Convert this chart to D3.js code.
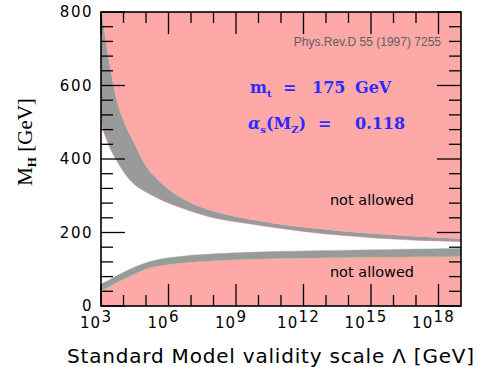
<!DOCTYPE html>
<html>
<head>
<meta charset="utf-8">
<script src="https://d3js.org/d3.v7.min.js"></script>
<style>
  body { margin: 0; background: white; }
  text { font-family: "DejaVu Sans", sans-serif; fill: black; }
  .band-grey { fill: #9a9a9a; }
  .band-pink { fill: #ffa8a8; }
</style>
</head>
<body>
<div id="container"></div>
<script>

// log10 of the validity scale Lambda
var lambdaExp = [3, 3.4, 3.7, 4, 4.5, 5, 5.5, 6, 7, 8, 9, 10, 11, 12, 13, 14, 15, 16, 17, 18, 19]

// triviality (upper) band, M_H in GeV
var upperTop = [815, 651, 560, 505, 440, 380, 345, 318, 280, 258, 243, 232, 222, 214, 208, 202, 197, 193, 189, 186, 183]
var upperBot = [495, 430, 395, 365, 330, 310, 294, 280, 258, 240, 229, 220, 211, 203, 196, 191, 186, 182, 179, 177, 175]

// vacuum stability (lower) band
var lowerTop = [60, 72, 82, 92, 106, 118, 126, 131, 138, 142, 145, 147, 149, 150, 151, 152, 153, 154, 155, 156, 157]
var lowerBot = [42, 54, 64, 73, 88, 101, 108, 113, 119, 123, 126, 128, 129, 130, 131, 132, 133, 133, 134, 134, 135]

var xTickExp = [3, 6, 9, 12, 15, 18]
var xMinorExp = [4, 5, 7, 8, 10, 11, 13, 14, 16, 17]
var yTicks = [0, 200, 400, 600, 800]
var yMinor = [40, 80, 120, 160, 240, 280, 320, 360, 440, 480, 520, 560, 640, 680, 720, 760]

const width = 487
const height = 367
const pLeft = 101, pRight = 461, pTop = 12, pBottom = 306

var svg = d3.select('#container')
  .append('svg')
  .attr('width', width)
  .attr('height', height)

var x = d3.scaleLog().domain([1e3, 1e19]).range([pLeft, pRight])
var y = d3.scaleLinear().domain([0, 800]).range([pBottom, pTop])

var rows = lambdaExp.map((e, i) => ({
  L: Math.pow(10, e),
  ut: upperTop[i], ub: upperBot[i], lt: lowerTop[i], lb: lowerBot[i]
}))

svg.append('clipPath').attr('id', 'plotClip')
  .append('rect')
  .attr('x', pLeft).attr('y', pTop)
  .attr('width', pRight - pLeft).attr('height', pBottom - pTop)

var plot = svg.append('g').attr('clip-path', 'url(#plotClip)')

var smooth = d3.curveMonotoneX

// pink: excluded above the upper band
plot.append('path').datum(rows).attr('class', 'band-pink')
  .attr('d', d3.area().curve(smooth).x(d => x(d.L)).y0(d => y(d.ut)).y1(y(850)))

plot.append('path').datum(rows).attr('class', 'band-grey')
  .attr('d', d3.area().curve(smooth).x(d => x(d.L)).y0(d => y(d.ub)).y1(d => y(d.ut)))

plot.append('path').datum(rows)
  .attr('fill', 'none').attr('stroke', '#e88080').attr('stroke-width', 0.5)
  .attr('d', d3.line().curve(smooth).x(d => x(d.L)).y(d => y(d.ub)))

// pink: excluded below the lower band
plot.append('path').datum(rows).attr('class', 'band-pink')
  .attr('d', d3.area().curve(smooth).x(d => x(d.L)).y0(y(-10)).y1(d => y(d.lb)))

plot.append('path').datum(rows).attr('class', 'band-grey')
  .attr('d', d3.area().curve(smooth).x(d => x(d.L)).y0(d => y(d.lb)).y1(d => y(d.lt)))

;['lt', 'lb'].forEach(k => {
  plot.append('path').datum(rows)
    .attr('fill', 'none').attr('stroke', '#77cc77').attr('stroke-width', 0.4)
    .attr('d', d3.line().curve(smooth).x(d => x(d.L)).y(d => y(d[k])))
})

// ticks, inside on all four sides
var tickG = svg.append('g').attr('stroke', 'black').attr('stroke-width', 1.3)

function vTicks(vals, len) {
  vals.forEach(e => {
    var xx = x(Math.pow(10, e))
    tickG.append('line').attr('x1', xx).attr('x2', xx).attr('y1', pBottom).attr('y2', pBottom - len)
    tickG.append('line').attr('x1', xx).attr('x2', xx).attr('y1', pTop).attr('y2', pTop + len)
  })
}
function hTicks(vals, len) {
  vals.forEach(v => {
    var yy = y(v)
    tickG.append('line').attr('x1', pLeft).attr('x2', pLeft + len).attr('y1', yy).attr('y2', yy)
    tickG.append('line').attr('x1', pRight).attr('x2', pRight - len).attr('y1', yy).attr('y2', yy)
  })
}
vTicks(xTickExp, 22)
vTicks(xMinorExp, 11)
hTicks(yTicks, 24)
hTicks(yMinor, 12)

svg.append('rect')
  .attr('x', pLeft).attr('y', pTop)
  .attr('width', pRight - pLeft).attr('height', pBottom - pTop)
  .attr('fill', 'none').attr('stroke', 'black').attr('stroke-width', 1.6)

// tick labels
svg.selectAll('.ylab').data(yTicks).enter().append('text')
  .attr('class', 'ylab')
  .attr('x', pLeft - 8).attr('y', d => y(d))
  .attr('dy', '0.36em')
  .attr('text-anchor', 'end')
  .style('font-size', '15px')
  .style('letter-spacing', '1.5px')
  .text(d => d)

var xl = svg.selectAll('.xlab').data(xTickExp).enter().append('text')
  .attr('class', 'xlab')
  .attr('x', d => x(Math.pow(10, d)) - 5).attr('y', 328)
  .attr('text-anchor', 'middle')
  .style('font-size', '15px')
  .style('letter-spacing', '1.2px')
xl.append('tspan').text('10')
xl.append('tspan').attr('dy', -6).text(d => d)

// axis titles
svg.append('text')
  .attr('x', 271).attr('y', 363)
  .attr('text-anchor', 'middle')
  .style('font-size', '20px')
  .style('letter-spacing', '0.8px')
  .text('Standard Model validity scale \u039b [GeV]')

var yt = svg.append('text')
  .attr('transform', 'translate(32,142) rotate(-90)')
  .attr('text-anchor', 'middle')
  .style('font-family', '"Liberation Serif", serif')
  .style('font-size', '21px')
yt.append('tspan').text('M')
yt.append('tspan').attr('dy', 4).style('font-size', '13px').style('font-weight', 'bold').text('H')
yt.append('tspan').attr('dy', -4).text(' [GeV]')

// annotations
svg.append('text')
  .attr('x', 441).attr('y', 46)
  .attr('text-anchor', 'end')
  .style('font-family', '"Liberation Sans", sans-serif')
  .style('font-size', '12px')
  .style('fill', '#606060')
  .text('Phys.Rev.D 55 (1997) 7255')

var blue = '#2b2bff'
function blueText(yPos) {
  return svg.append('text')
    .attr('y', yPos)
    .style('font-family', '"DejaVu Serif", serif')
    .style('font-weight', 'bold')
    .style('font-size', '16px')
    .style('fill', blue)
}
var t1 = blueText(93)
t1.append('tspan').attr('x', 250).text('m')
t1.append('tspan').attr('dy', 4).style('font-size', '10px').text('t')
t1.append('tspan').attr('x', 283).attr('dy', -4).text('=')
t1.append('tspan').attr('x', 312).text('175')
t1.append('tspan').attr('x', 355).text('GeV')

var t2 = blueText(129)
t2.append('tspan').attr('x', 248).style('font-style', 'italic').text('\u03b1')
t2.append('tspan').attr('dy', 4).style('font-size', '10px').text('s')
t2.append('tspan').attr('dy', -4).text('(M')
t2.append('tspan').attr('dy', 4).style('font-size', '10px').text('Z')
t2.append('tspan').attr('dy', -4).text(')')
t2.append('tspan').attr('x', 318).text('=')
t2.append('tspan').attr('x', 355).text('0.118')

svg.selectAll('.na').data([205, 277]).enter().append('text')
  .attr('class', 'na')
  .attr('x', 372).attr('y', d => d)
  .attr('text-anchor', 'middle')
  .style('font-size', '14.5px')
  .text('not allowed')

</script>
</body>
</html>
